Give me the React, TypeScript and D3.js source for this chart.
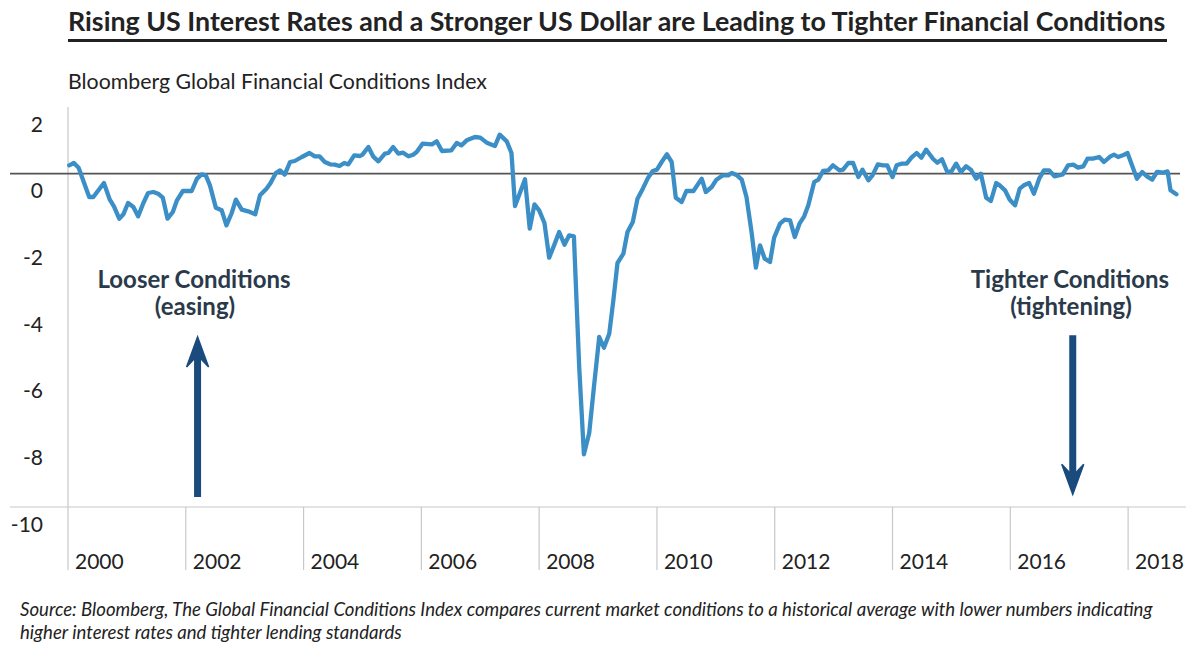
import React from "react";
import * as d3 from "d3";

const titleText = "Rising US Interest Rates and a Stronger US Dollar are Leading to Tighter Financial Conditions";
const subtitleText = "Bloomberg Global Financial Conditions Index";
const footnoteLines = [
  "Source: Bloomberg, The Global Financial Conditions Index compares current market conditions to a historical average with lower numbers indicating",
  "higher interest rates and tighter lending standards",
];
const yTickValues = [2, 0, -2, -4, -6, -8, -10];
const xTickYears = [2000, 2002, 2004, 2006, 2008, 2010, 2012, 2014, 2016, 2018];

// decimal-year dates of the index readings
const dates = [
  2000.02, 2000.10, 2000.18, 2000.36, 2000.43, 2000.61, 2000.71, 2000.78, 2000.87, 2000.94,
  2001.02, 2001.11, 2001.19, 2001.28, 2001.36, 2001.45, 2001.53, 2001.61, 2001.69, 2001.78,
  2001.85, 2001.95, 2002.10, 2002.19, 2002.27, 2002.34, 2002.41, 2002.51, 2002.61, 2002.69,
  2002.78, 2002.85, 2002.95, 2003.06, 2003.18, 2003.26, 2003.37, 2003.44, 2003.53, 2003.60,
  2003.68, 2003.77, 2003.85, 2003.97, 2004.10, 2004.19, 2004.27, 2004.36, 2004.45, 2004.53,
  2004.61, 2004.69, 2004.76, 2004.86, 2004.96, 2005.00, 2005.10, 2005.18, 2005.27, 2005.38,
  2005.44, 2005.52, 2005.61, 2005.69, 2005.78, 2005.86, 2005.92, 2006.02, 2006.18, 2006.26,
  2006.35, 2006.51, 2006.60, 2006.68, 2006.77, 2006.91, 2007.00, 2007.11, 2007.25, 2007.33,
  2007.45, 2007.53, 2007.59, 2007.76, 2007.84, 2007.92, 2008.00, 2008.09, 2008.17, 2008.26,
  2008.34, 2008.43, 2008.51, 2008.59, 2008.68, 2008.76, 2008.85, 2008.93, 2009.02, 2009.10,
  2009.19, 2009.26, 2009.33, 2009.43, 2009.50, 2009.59, 2009.67, 2009.76, 2009.85, 2009.93,
  2010.00, 2010.08, 2010.17, 2010.25, 2010.32, 2010.42, 2010.50, 2010.62, 2010.76, 2010.83,
  2010.93, 2011.01, 2011.12, 2011.21, 2011.27, 2011.36, 2011.44, 2011.52, 2011.61, 2011.68,
  2011.75, 2011.83, 2011.92, 2011.99, 2012.09, 2012.17, 2012.26, 2012.34, 2012.42, 2012.50,
  2012.57, 2012.67, 2012.74, 2012.82, 2012.91, 2012.99, 2013.10, 2013.16, 2013.25, 2013.33,
  2013.42, 2013.49, 2013.59, 2013.66, 2013.75, 2013.84, 2013.91, 2014.00, 2014.07, 2014.15,
  2014.24, 2014.32, 2014.41, 2014.49, 2014.57, 2014.69, 2014.76, 2014.84, 2014.93, 2015.00,
  2015.08, 2015.16, 2015.25, 2015.33, 2015.42, 2015.50, 2015.59, 2015.67, 2015.76, 2015.82,
  2015.91, 2015.99, 2016.08, 2016.16, 2016.23, 2016.32, 2016.40, 2016.49, 2016.57, 2016.66,
  2016.75, 2016.89, 2016.98, 2017.07, 2017.15, 2017.24, 2017.31, 2017.40, 2017.51, 2017.59,
  2017.70, 2017.76, 2017.83, 2017.91, 2017.99, 2018.15, 2018.24, 2018.32, 2018.41, 2018.49,
  2018.60, 2018.67, 2018.72, 2018.82,
];

const fci = [
  0.25, 0.32, 0.18, -0.7, -0.7, -0.28, -0.78, -0.98, -1.35, -1.22,
  -0.88, -1.0, -1.28, -0.88, -0.58, -0.55, -0.6, -0.72, -1.35, -1.15,
  -0.8, -0.52, -0.52, -0.15, -0.02, -0.05, -0.35, -1.02, -1.1, -1.55,
  -1.18, -0.78, -1.08, -1.13, -1.22, -0.65, -0.45, -0.28, 0.02, 0.1,
  -0.03, 0.35, 0.38, 0.5, 0.62, 0.52, 0.52, 0.35, 0.28, 0.27,
  0.23, 0.32, 0.28, 0.55, 0.53, 0.57, 0.8, 0.52, 0.37, 0.6,
  0.62, 0.8, 0.6, 0.63, 0.52, 0.57, 0.65, 0.9, 0.88, 0.97,
  0.68, 0.7, 0.92, 0.85, 1.0, 1.1, 1.08, 0.93, 0.83, 1.17,
  0.97, 0.62, -0.97, -0.17, -1.65, -0.92, -1.1, -1.48, -2.52, -2.12,
  -1.75, -2.13, -1.85, -1.88, -5.8, -8.42, -7.78, -6.4, -4.9, -5.22,
  -4.8, -3.8, -2.68, -2.4, -1.75, -1.45, -0.75, -0.45, -0.12, 0.08,
  0.12, 0.35, 0.58, 0.35, -0.72, -0.85, -0.52, -0.52, -0.15, -0.55,
  -0.4, -0.18, -0.05, -0.05, 0.02, -0.05, -0.18, -0.7, -1.8, -2.82,
  -2.15, -2.55, -2.65, -1.92, -1.5, -1.38, -1.4, -1.9, -1.5, -1.28,
  -0.95, -0.25, -0.18, 0.08, 0.1, 0.25, 0.1, 0.12, 0.32, 0.32,
  -0.1, 0.12, -0.2, -0.05, 0.28, 0.25, 0.25, -0.1, 0.25, 0.3,
  0.3, 0.48, 0.62, 0.48, 0.72, 0.44, 0.33, 0.43, 0.05, 0.07,
  0.3, 0.05, 0.22, 0.12, -0.15, 0.0, -0.72, -0.82, -0.28, -0.35,
  -0.5, -0.78, -0.95, -0.45, -0.35, -0.28, -0.6, -0.15, 0.1, 0.1,
  -0.08, -0.02, 0.25, 0.27, 0.18, 0.22, 0.45, 0.45, 0.5, 0.35,
  0.52, 0.57, 0.5, 0.55, 0.62, -0.15, 0.05, -0.08, -0.18, 0.05,
  0.03, 0.07, -0.5, -0.62,
];

const annotations = [
  { lines: ["Looser Conditions", "(easing)"], cx: 194, arrowX: 2002.2, from: -9.7, to: -4.9 },
  { lines: ["Tighter Conditions", "(tightening)"], cx: 1070, arrowX: 2017.06, from: -4.85, to: -9.62 },
];

export default function App() {
  const W = 1195;
  const H = 645;
  const x = d3.scaleLinear().domain([2000, 2019]).range([68, 1187]);
  const y = d3.scaleLinear().domain([-10, 2]).range([507, 107]);
  const points = dates.map((d, i) => [d, fci[i]] as [number, number]);
  const line = d3
    .line<[number, number]>()
    .x((d) => x(d[0]))
    .y((d) => y(d[1]))
    .curve(d3.curveLinear);

  const font = "Lato, 'Open Sans', sans-serif";
  const textColor = "#222";
  const annColor = "#2b3a4a";
  const arrowColor = "#1b4a7d";

  return (
    <svg
      width={W}
      height={H}
      viewBox={`0 0 ${W} ${H}`}
      style={{ position: "absolute", left: 0, top: 0, background: "#fff" }}
      fontFamily={font}
    >
      <rect x={0} y={0} width={W} height={H} fill="#fff" />
      {/* Title */}
      <text x={68} y={31} fontSize={26.8} fontWeight={700} fill={textColor}>
        {titleText}
      </text>
      <line x1={68} x2={1167} y1={40.5} y2={40.5} stroke="#222" strokeWidth={3} />
      <text x={68} y={89} fontSize={21.3} fill={textColor}>
        {subtitleText}
      </text>

      {/* axis frame */}
      <line x1={x(2000)} x2={x(2000)} y1={y(2)} y2={570} stroke="#c8c8c8" strokeWidth={1.2} />
      <line x1={10} x2={1186} y1={y(-10)} y2={y(-10)} stroke="#c8c8c8" strokeWidth={1.2} />
      {xTickYears.slice(1).map((yr) => (
        <line key={yr} x1={x(yr)} x2={x(yr)} y1={y(-10)} y2={570} stroke="#c8c8c8" strokeWidth={1.2} />
      ))}
      {xTickYears.map((yr) => (
        <text key={"t" + yr} x={x(yr) + 7} y={569} fontSize={21} fill={textColor}>
          {yr}
        </text>
      ))}
      {yTickValues.map((v) => (
        <text
          key={"y" + v}
          x={43}
          y={y(v) + 16}
          fontSize={21}
          fill={textColor}
          textAnchor="end"
          dominantBaseline="central"
        >
          {v}
        </text>
      ))}

      {/* zero line */}
      <line x1={10} x2={1180} y1={y(0)} y2={y(0)} stroke="#555" strokeWidth={1.6} />

      {/* data line */}
      <path
        d={line(points) || ""}
        fill="none"
        stroke="#3b8fc6"
        strokeWidth={4.3}
        strokeLinejoin="round"
        strokeLinecap="round"
      />

      {/* annotations */}
      {annotations.map((a, i) => {
        const ax = x(a.arrowX);
        const y0 = y(a.from);
        const y1 = y(a.to);
        const dir = y1 < y0 ? 1 : -1; // 1 = arrow points up
        const headLen = 30;
        const headHalf = 11;
        const shaftEnd = y1 + dir * 18;
        return (
          <g key={i}>
            <text x={a.cx} y={288} fontSize={24} fontWeight={700} fill={annColor} textAnchor="middle">
              {a.lines[0]}
            </text>
            <text x={a.cx + 1} y={315} fontSize={24} fontWeight={700} fill={annColor} textAnchor="middle">
              {a.lines[1]}
            </text>
            <line x1={ax} x2={ax} y1={y0} y2={shaftEnd} stroke={arrowColor} strokeWidth={7} />
            <path
              d={`M${ax - headHalf},${y1 + dir * headLen} L${ax},${y1} L${ax + headHalf},${y1 + dir * headLen} L${ax + 3.5},${y1 + dir * 22} L${ax - 3.5},${y1 + dir * 22} Z`}
              fill={arrowColor}
              stroke={arrowColor}
              strokeWidth={1.5}
              strokeLinejoin="miter"
            />
          </g>
        );
      })}

      {/* footnote */}
      {footnoteLines.map((l, i) => (
        <text key={"f" + i} x={20} y={616} fontSize={18.6} fontStyle="italic" fill={textColor} dy={i * 23}>
          {l}
        </text>
      ))}
    </svg>
  );
}
